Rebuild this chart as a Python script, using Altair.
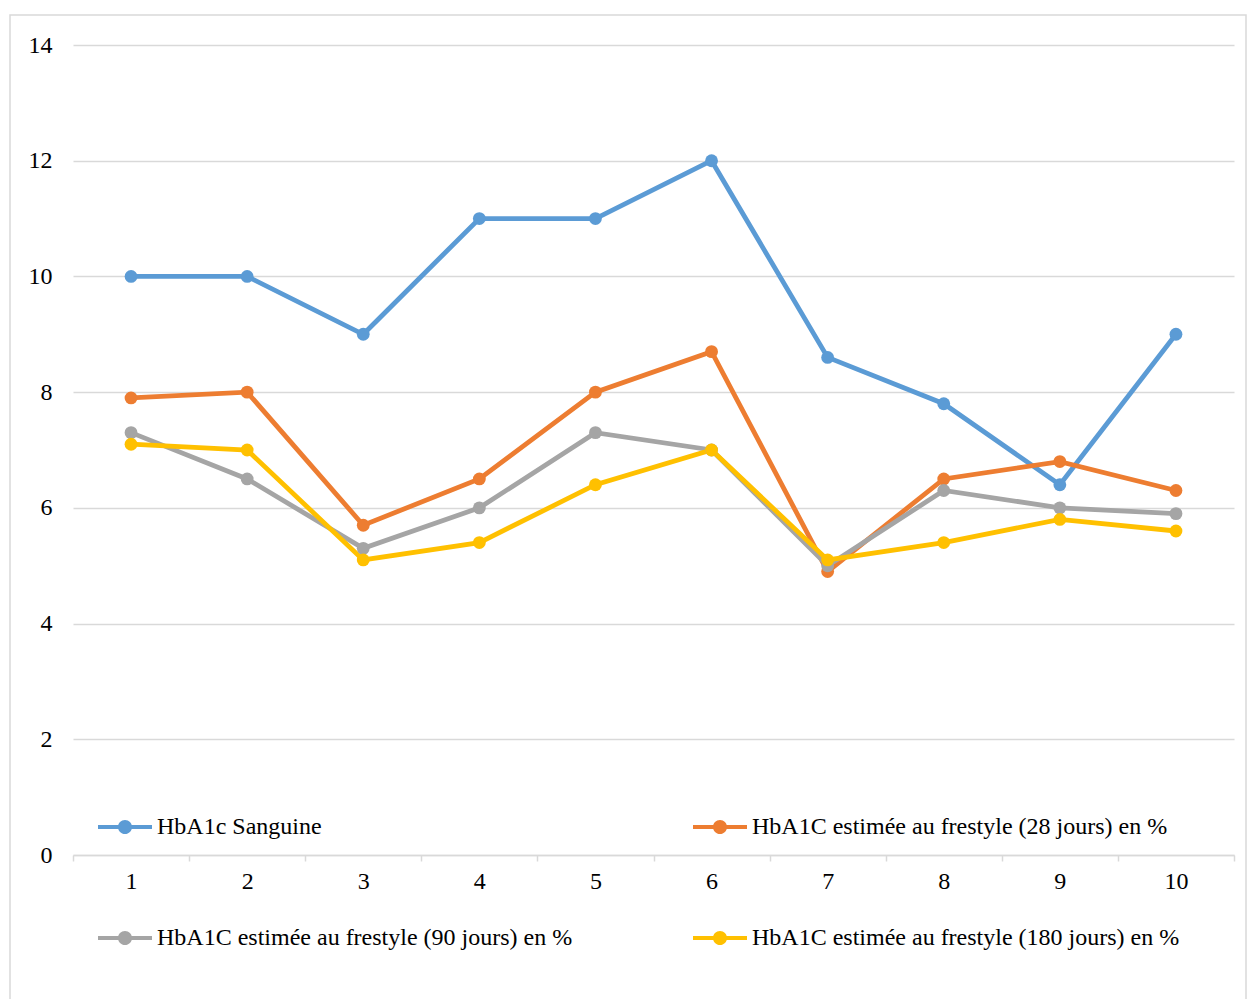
import altair as alt
import pandas as pd

categories = ["1", "2", "3", "4", "5", "6", "7", "8", "9", "10"]
series_names = [
    "HbA1c Sanguine",
    "HbA1C estimée au frestyle (28 jours) en %",
    "HbA1C estimée au frestyle (90 jours) en %",
    "HbA1C estimée au frestyle (180 jours) en %",
]
hba1c_sanguine = [10, 10, 9, 11, 11, 12, 8.6, 7.8, 6.4, 9]
frestyle_28 = [7.9, 8, 5.7, 6.5, 8, 8.7, 4.9, 6.5, 6.8, 6.3]
frestyle_90 = [7.3, 6.5, 5.3, 6, 7.3, 7, 5, 6.3, 6, 5.9]
frestyle_180 = [7.1, 7, 5.1, 5.4, 6.4, 7, 5.1, 5.4, 5.8, 5.6]
colors = ["#5B9BD5", "#ED7D31", "#A5A5A5", "#FFC000"]
y_ticks = [0, 2, 4, 6, 8, 10, 12, 14]

rows = []
for name, vals in zip(series_names, [hba1c_sanguine, frestyle_28, frestyle_90, frestyle_180]):
    for c, v in zip(categories, vals):
        rows.append({"x": c, "serie": name, "y": v})
df = pd.DataFrame(rows)

FONT = "Liberation Serif"
FS = 24

legend_path = (
    "M-1,-0.075H-0.25V0.075H-1Z"
    "M0.25,-0.075H1V0.075H0.25Z"
    "M-0.26,0A0.26,0.26,0,1,1,0.26,0A0.26,0.26,0,1,1,-0.26,0Z"
)

legend = alt.Legend(
    title=None,
    orient="none",
    legendX=25,
    legendY=755,
    direction="horizontal",
    columns=2,
    columnPadding=120,
    rowPadding=72,
    symbolType=legend_path,
    symbolSize=2916,
    symbolStrokeWidth=0,
    symbolOpacity=1,
    labelFont=FONT,
    labelFontSize=FS,
    labelColor="#000000",
    labelOffset=5,
    labelLimit=2000,
)

x_enc = alt.X(
    "x:N",
    sort=categories,
    bandPosition=0.5,
    scale=alt.Scale(type="band", paddingInner=0, paddingOuter=0),
    axis=alt.Axis(
        title=None,
        labelAngle=0,
        tickBand="extent",
        grid=False,
        domainColor="#d9d9d9",
        domainWidth=1.5,
        tickColor="#d9d9d9",
        tickWidth=1.5,
        tickSize=6,
        labelPadding=8,
        labelFont=FONT,
        labelFontSize=FS,
        labelColor="#000000",
    ),
)
y_enc = alt.Y(
    "y:Q",
    scale=alt.Scale(domain=[0, 14], nice=False),
    axis=alt.Axis(
        title=None,
        values=y_ticks,
        domain=False,
        ticks=False,
        gridColor="#d9d9d9",
        gridWidth=1.5,
        labelPadding=21,
        labelFont=FONT,
        labelFontSize=FS,
        labelColor="#000000",
    ),
)
color_scale = alt.Scale(domain=series_names, range=colors)

base = alt.Chart(df)

lines = base.mark_line(strokeWidth=4.8).encode(
    x=x_enc,
    y=y_enc,
    color=alt.Color("serie:N", scale=color_scale, sort=series_names, legend=legend),
)

points = base.mark_point(filled=True, size=165, opacity=1).encode(
    x=x_enc,
    y=y_enc,
    color=alt.Color("serie:N", scale=color_scale, sort=series_names, legend=legend),
)

frame = alt.Chart(pd.DataFrame({"k": [0]})).mark_rect(
    filled=False, stroke="#d9d9d9", strokeWidth=1.5
).encode(
    x=alt.value(-63), x2=alt.value(1173), y=alt.value(-30), y2=alt.value(1010)
)

chart = alt.layer(frame, lines, points).properties(
    width=1161,
    height=810,
    autosize=alt.AutoSizeParams(type="none"),
    padding={"left": 73, "top": 45, "right": 15, "bottom": 144},
    background="white",
).configure_view(stroke=None)

chart.save("out.html", embed_options={"renderer": "svg", "actions": False})
